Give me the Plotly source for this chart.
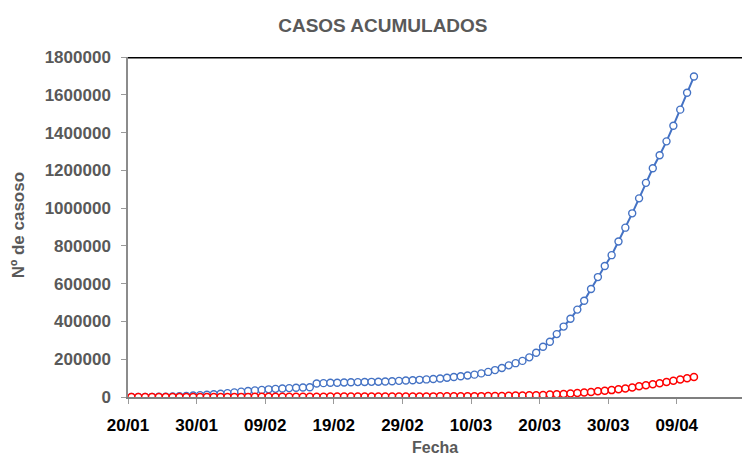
import pandas as pd
import plotly.graph_objects as go

start_date = "2020-01-20"
cases = [282, 314, 581, 846, 1320, 2014, 2798, 4593, 6065, 7818,
         9826, 11953, 14557, 17391, 20630, 24554, 28276, 31481, 34886, 37558,
         40554, 43103, 45171, 46997, 49053, 50580, 51857, 71429, 73332, 75204,
         75748, 76769, 77794, 78811, 79331, 80239, 81109, 82294, 83652, 85403,
         87137, 88948, 90870, 93090, 95324, 98192, 101927, 105586, 109577, 113702,
         118319, 125048, 132758, 142539, 153517, 167511, 179111, 191127, 209839, 234073,
         266073, 292142, 332930, 372757, 414179, 462684, 509164, 571678, 634835, 693224,
         750890, 823626, 896450, 972303, 1051635, 1133758, 1210956, 1279722, 1353361, 1436198,
         1521252, 1610909, 1696588]
deaths = [6, 6, 17, 25, 41, 56, 80, 106, 132, 170,
          213, 259, 305, 362, 426, 492, 565, 638, 724, 813,
          910, 1018, 1115, 1369, 1383, 1526, 1669, 1775, 1873, 2009,
          2129, 2247, 2359, 2445, 2595, 2700, 2762, 2804, 2858, 2924,
          2977, 3043, 3112, 3198, 3281, 3380, 3486, 3584, 3809, 4012,
          4292, 4613, 4955, 5393, 5735, 6606, 7426, 7807, 8778, 9840,
          11184, 12784, 14510, 16231, 18440, 20834, 23335, 26494, 29957, 33106,
          36405, 40598, 45526, 50321, 56985, 62784, 67594, 72614, 79235, 85521,
          92798, 99690, 105952]
tick_dates = ["2020-01-20", "2020-01-30", "2020-02-09", "2020-02-19", "2020-02-29",
              "2020-03-10", "2020-03-20", "2020-03-30", "2020-04-09"]
tick_labels = ["20/01", "30/01", "09/02", "19/02", "29/02", "10/03", "20/03", "30/03", "09/04"]
y_ticks = [0, 200000, 400000, 600000, 800000, 1000000, 1200000, 1400000, 1600000, 1800000]

dates = pd.date_range(start_date, periods=len(cases), freq="D")
x = dates + pd.Timedelta(hours=12)  # points centred between day ticks

FONT = "Liberation Sans, Arial, sans-serif"
GREY = "#595959"

fig = go.Figure()
fig.add_trace(go.Scatter(
    x=x, y=cases, mode="lines+markers",
    line=dict(color="#4472C4", width=2),
    marker=dict(symbol="circle", size=7, color="white",
                line=dict(color="#4472C4", width=1.4)),
    showlegend=False))
fig.add_trace(go.Scatter(
    x=x, y=deaths, mode="lines+markers",
    line=dict(color="#FF0000", width=1.5),
    marker=dict(symbol="circle", size=7, color="white",
                line=dict(color="#FF0000", width=1.5)),
    showlegend=False))

fig.update_layout(
    width=742, height=457,
    margin=dict(l=128, r=0, t=57, b=60, autoexpand=False),
    paper_bgcolor="white", plot_bgcolor="white",
    title=dict(text="<b>CASOS ACUMULADOS</b>", x=0.516, xanchor="center",
               y=1 - 25 / 457, yanchor="middle",
               font=dict(family=FONT, size=19, color=GREY)),
    xaxis=dict(
        type="date", automargin=False,
        range=["2020-01-20", pd.Timestamp("2020-01-20") + pd.Timedelta(days=614 / 6.86)],
        tickvals=tick_dates, ticktext=["<b>%s</b>" % t for t in tick_labels],
        tickfont=dict(family=FONT, size=17, color="black"),
        showgrid=False, zeroline=False,
        showline=True, linecolor="#7f7f7f", linewidth=1.5,
        ticks="outside", ticklen=5, tickcolor="#9a9a9a", tickwidth=1,
        ticklabelstandoff=7,
    ),
    yaxis=dict(
        range=[0, 1800000], automargin=False,
        tickvals=y_ticks, ticktext=["<b>%d</b>" % v for v in y_ticks],
        tickfont=dict(family=FONT, size=17, color=GREY),
        showgrid=False, zeroline=False,
        showline=True, linecolor="#8c8c8c", linewidth=1.5,
        ticks="outside", ticklen=5, tickcolor="#9a9a9a", tickwidth=1,
        ticklabelstandoff=7,
    ),
    annotations=[
        dict(text="<b>Nº de casoso</b>", textangle=-90,
             xref="paper", yref="paper", x=0, y=0.505, xanchor="center", yanchor="middle",
             xshift=-110, showarrow=False,
             font=dict(family=FONT, size=17, color=GREY)),
        dict(text="<b>Fecha</b>",
             xref="paper", yref="paper", x=0.5, y=0, xanchor="center", yanchor="middle",
             yshift=-50, showarrow=False,
             font=dict(family=FONT, size=16, color=GREY)),
    ],
    shapes=[dict(type="line", xref="paper", yref="y", x0=0, x1=1,
                 y0=1800000, y1=1800000, line=dict(color="black", width=3))],
)

fig.write_html("out.html", config={"displayModeBar": False},
               post_script="document.body.style.margin='0';")
